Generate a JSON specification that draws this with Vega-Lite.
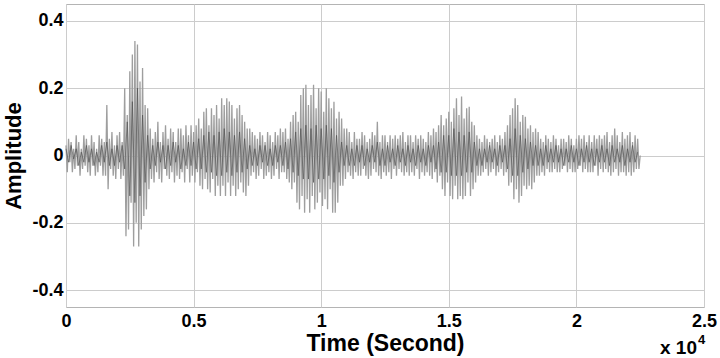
{
"$schema": "https://vega.github.io/schema/vega-lite/v6.json",
"width": 638, "height": 303,
"autosize": "none",
"padding": {"left": 66, "top": 4, "right": 16, "bottom": 51},
"background": "white",
"config": {"view": {"stroke": "#b4b4b4", "strokeWidth": 1}, "font": "Liberation Sans"},
"datasets": {
"main": [
{"t":0,"a":0.03},{"t":50,"a":-0.05},{"t":100,"a":0.05},{"t":150,"a":-0.02},{"t":200,"a":0.04},{"t":250,"a":-0.05},{"t":300,"a":0.02},{"t":350,"a":-0.04},{"t":400,"a":0.06},{"t":450,"a":-0.03},
{"t":500,"a":0.04},{"t":550,"a":-0.06},{"t":600,"a":0.02},{"t":650,"a":-0.04},{"t":700,"a":0.06},{"t":750,"a":-0.03},{"t":800,"a":0.05},{"t":850,"a":-0.05},{"t":900,"a":0.03},{"t":950,"a":-0.06},
{"t":1000,"a":0.06},{"t":1050,"a":-0.03},{"t":1100,"a":0.04},{"t":1150,"a":-0.06},{"t":1200,"a":0.02},{"t":1250,"a":-0.05},{"t":1300,"a":0.06},{"t":1350,"a":-0.03},{"t":1400,"a":0.05},{"t":1450,"a":-0.06},
{"t":1500,"a":0.04},{"t":1550,"a":-0.06},{"t":1600,"a":0.15},{"t":1650,"a":-0.10},{"t":1700,"a":0.05},{"t":1750,"a":-0.04},{"t":1800,"a":0.07},{"t":1850,"a":-0.06},{"t":1900,"a":0.03},{"t":1950,"a":-0.07},
{"t":2000,"a":0.06},{"t":2050,"a":-0.04},{"t":2100,"a":0.07},{"t":2150,"a":-0.07},{"t":2200,"a":0.04},{"t":2250,"a":-0.06},{"t":2300,"a":0.20},{"t":2350,"a":-0.24},{"t":2400,"a":0.12},{"t":2450,"a":-0.22},
{"t":2500,"a":0.25},{"t":2550,"a":-0.14},{"t":2600,"a":0.30},{"t":2650,"a":-0.27},{"t":2700,"a":0.34},{"t":2750,"a":-0.20},{"t":2800,"a":0.33},{"t":2850,"a":-0.27},{"t":2900,"a":0.22},{"t":2950,"a":-0.22},
{"t":3000,"a":0.26},{"t":3050,"a":-0.18},{"t":3100,"a":0.15},{"t":3150,"a":-0.16},{"t":3200,"a":0.14},{"t":3250,"a":-0.10},{"t":3300,"a":0.08},{"t":3350,"a":-0.07},{"t":3400,"a":0.05},{"t":3450,"a":-0.08},
{"t":3500,"a":0.07},{"t":3550,"a":-0.05},{"t":3600,"a":0.10},{"t":3650,"a":-0.07},{"t":3700,"a":0.04},{"t":3750,"a":-0.08},{"t":3800,"a":0.07},{"t":3850,"a":-0.04},{"t":3900,"a":0.09},{"t":3950,"a":-0.06},
{"t":4000,"a":0.05},{"t":4050,"a":-0.07},{"t":4100,"a":0.08},{"t":4150,"a":-0.05},{"t":4200,"a":0.07},{"t":4250,"a":-0.08},{"t":4300,"a":0.04},{"t":4350,"a":-0.06},{"t":4400,"a":0.08},{"t":4450,"a":-0.07},
{"t":4500,"a":0.08},{"t":4550,"a":-0.05},{"t":4600,"a":0.06},{"t":4650,"a":-0.08},{"t":4700,"a":0.09},{"t":4750,"a":-0.04},{"t":4800,"a":0.06},{"t":4850,"a":-0.08},{"t":4900,"a":0.09},{"t":4950,"a":-0.06},
{"t":5000,"a":0.07},{"t":5050,"a":-0.08},{"t":5100,"a":0.09},{"t":5150,"a":-0.05},{"t":5200,"a":0.11},{"t":5250,"a":-0.09},{"t":5300,"a":0.08},{"t":5350,"a":-0.10},{"t":5400,"a":0.13},{"t":5450,"a":-0.07},
{"t":5500,"a":0.14},{"t":5550,"a":-0.10},{"t":5600,"a":0.09},{"t":5650,"a":-0.11},{"t":5700,"a":0.14},{"t":5750,"a":-0.07},{"t":5800,"a":0.12},{"t":5850,"a":-0.12},{"t":5900,"a":0.15},{"t":5950,"a":-0.09},
{"t":6000,"a":0.11},{"t":6050,"a":-0.12},{"t":6100,"a":0.17},{"t":6150,"a":-0.09},{"t":6200,"a":0.15},{"t":6250,"a":-0.12},{"t":6300,"a":0.17},{"t":6350,"a":-0.08},{"t":6400,"a":0.16},{"t":6450,"a":-0.12},
{"t":6500,"a":0.15},{"t":6550,"a":-0.09},{"t":6600,"a":0.11},{"t":6650,"a":-0.12},{"t":6700,"a":0.14},{"t":6750,"a":-0.10},{"t":6800,"a":0.15},{"t":6850,"a":-0.08},{"t":6900,"a":0.12},{"t":6950,"a":-0.11},
{"t":7000,"a":0.10},{"t":7050,"a":-0.12},{"t":7100,"a":0.08},{"t":7150,"a":-0.09},{"t":7200,"a":0.08},{"t":7250,"a":-0.06},{"t":7300,"a":0.07},{"t":7350,"a":-0.05},{"t":7400,"a":0.06},{"t":7450,"a":-0.07},
{"t":7500,"a":0.05},{"t":7550,"a":-0.06},{"t":7600,"a":0.07},{"t":7650,"a":-0.04},{"t":7700,"a":0.06},{"t":7750,"a":-0.07},{"t":7800,"a":0.04},{"t":7850,"a":-0.06},{"t":7900,"a":0.07},{"t":7950,"a":-0.05},
{"t":8000,"a":0.06},{"t":8050,"a":-0.07},{"t":8100,"a":0.04},{"t":8150,"a":-0.06},{"t":8200,"a":0.07},{"t":8250,"a":-0.04},{"t":8300,"a":0.06},{"t":8350,"a":-0.07},{"t":8400,"a":0.08},{"t":8450,"a":-0.05},
{"t":8500,"a":0.07},{"t":8550,"a":-0.05},{"t":8600,"a":0.08},{"t":8650,"a":-0.07},{"t":8700,"a":0.05},{"t":8750,"a":-0.08},{"t":8800,"a":0.10},{"t":8850,"a":-0.10},{"t":8900,"a":0.12},{"t":8950,"a":-0.08},
{"t":9000,"a":0.13},{"t":9050,"a":-0.14},{"t":9100,"a":0.10},{"t":9150,"a":-0.16},{"t":9200,"a":0.18},{"t":9250,"a":-0.12},{"t":9300,"a":0.20},{"t":9350,"a":-0.17},{"t":9400,"a":0.21},{"t":9450,"a":-0.13},
{"t":9500,"a":0.15},{"t":9550,"a":-0.17},{"t":9600,"a":0.18},{"t":9650,"a":-0.12},{"t":9700,"a":0.21},{"t":9750,"a":-0.16},{"t":9800,"a":0.14},{"t":9850,"a":-0.14},{"t":9900,"a":0.20},{"t":9950,"a":-0.11},
{"t":10000,"a":0.19},{"t":10050,"a":-0.15},{"t":10100,"a":0.13},{"t":10150,"a":-0.13},{"t":10200,"a":0.20},{"t":10250,"a":-0.16},{"t":10300,"a":0.17},{"t":10350,"a":-0.10},{"t":10400,"a":0.14},{"t":10450,"a":-0.17},
{"t":10500,"a":0.16},{"t":10550,"a":-0.17},{"t":10600,"a":0.11},{"t":10650,"a":-0.14},{"t":10700,"a":0.13},{"t":10750,"a":-0.09},{"t":10800,"a":0.11},{"t":10850,"a":-0.09},{"t":10900,"a":0.08},{"t":10950,"a":-0.07},
{"t":11000,"a":0.08},{"t":11050,"a":-0.05},{"t":11100,"a":0.07},{"t":11150,"a":-0.06},{"t":11200,"a":0.04},{"t":11250,"a":-0.07},{"t":11300,"a":0.07},{"t":11350,"a":-0.05},{"t":11400,"a":0.05},{"t":11450,"a":-0.06},
{"t":11500,"a":0.05},{"t":11550,"a":-0.06},{"t":11600,"a":0.07},{"t":11650,"a":-0.04},{"t":11700,"a":0.06},{"t":11750,"a":-0.06},{"t":11800,"a":0.04},{"t":11850,"a":-0.07},{"t":11900,"a":0.05},{"t":11950,"a":-0.06},
{"t":12000,"a":0.07},{"t":12050,"a":-0.04},{"t":12100,"a":0.06},{"t":12150,"a":-0.05},{"t":12200,"a":0.10},{"t":12250,"a":-0.06},{"t":12300,"a":0.04},{"t":12350,"a":-0.07},{"t":12400,"a":0.06},{"t":12450,"a":-0.05},
{"t":12500,"a":0.06},{"t":12550,"a":-0.06},{"t":12600,"a":0.04},{"t":12650,"a":-0.05},{"t":12700,"a":0.06},{"t":12750,"a":-0.07},{"t":12800,"a":0.05},{"t":12850,"a":-0.04},{"t":12900,"a":0.06},{"t":12950,"a":-0.06},
{"t":13000,"a":0.05},{"t":13050,"a":-0.04},{"t":13100,"a":0.06},{"t":13150,"a":-0.05},{"t":13200,"a":0.07},{"t":13250,"a":-0.06},{"t":13300,"a":0.04},{"t":13350,"a":-0.05},{"t":13400,"a":0.06},{"t":13450,"a":-0.06},
{"t":13500,"a":0.06},{"t":13550,"a":-0.05},{"t":13600,"a":0.04},{"t":13650,"a":-0.06},{"t":13700,"a":0.06},{"t":13750,"a":-0.04},{"t":13800,"a":0.05},{"t":13850,"a":-0.07},{"t":13900,"a":0.06},{"t":13950,"a":-0.05},
{"t":14000,"a":0.05},{"t":14050,"a":-0.06},{"t":14100,"a":0.04},{"t":14150,"a":-0.05},{"t":14200,"a":0.07},{"t":14250,"a":-0.06},{"t":14300,"a":0.06},{"t":14350,"a":-0.07},{"t":14400,"a":0.08},{"t":14450,"a":-0.05},
{"t":14500,"a":0.07},{"t":14550,"a":-0.08},{"t":14600,"a":0.09},{"t":14650,"a":-0.06},{"t":14700,"a":0.12},{"t":14750,"a":-0.10},{"t":14800,"a":0.09},{"t":14850,"a":-0.12},{"t":14900,"a":0.11},{"t":14950,"a":-0.08},
{"t":15000,"a":0.13},{"t":15050,"a":-0.12},{"t":15100,"a":0.10},{"t":15150,"a":-0.13},{"t":15200,"a":0.14},{"t":15250,"a":-0.09},{"t":15300,"a":0.17},{"t":15350,"a":-0.13},{"t":15400,"a":0.12},{"t":15450,"a":-0.12},
{"t":15500,"a":0.175},{"t":15550,"a":-0.13},{"t":15600,"a":0.11},{"t":15650,"a":-0.12},{"t":15700,"a":0.14},{"t":15750,"a":-0.08},{"t":15800,"a":0.145},{"t":15850,"a":-0.12},{"t":15900,"a":0.10},{"t":15950,"a":-0.10},
{"t":16000,"a":0.09},{"t":16050,"a":-0.08},{"t":16100,"a":0.06},{"t":16150,"a":-0.06},{"t":16200,"a":0.05},{"t":16250,"a":-0.06},{"t":16300,"a":0.04},{"t":16350,"a":-0.05},{"t":16400,"a":0.06},{"t":16450,"a":-0.04},
{"t":16500,"a":0.05},{"t":16550,"a":-0.06},{"t":16600,"a":0.04},{"t":16650,"a":-0.05},{"t":16700,"a":0.05},{"t":16750,"a":-0.04},{"t":16800,"a":0.06},{"t":16850,"a":-0.06},{"t":16900,"a":0.04},{"t":16950,"a":-0.05},
{"t":17000,"a":0.06},{"t":17050,"a":-0.04},{"t":17100,"a":0.05},{"t":17150,"a":-0.06},{"t":17200,"a":0.07},{"t":17250,"a":-0.05},{"t":17300,"a":0.09},{"t":17350,"a":-0.09},{"t":17400,"a":0.12},{"t":17450,"a":-0.08},
{"t":17500,"a":0.14},{"t":17550,"a":-0.13},{"t":17600,"a":0.17},{"t":17650,"a":-0.10},{"t":17700,"a":0.15},{"t":17750,"a":-0.14},{"t":17800,"a":0.10},{"t":17850,"a":-0.12},{"t":17900,"a":0.12},{"t":17950,"a":-0.09},
{"t":18000,"a":0.115},{"t":18050,"a":-0.10},{"t":18100,"a":0.08},{"t":18150,"a":-0.09},{"t":18200,"a":0.09},{"t":18250,"a":-0.10},{"t":18300,"a":0.07},{"t":18350,"a":-0.08},{"t":18400,"a":0.08},{"t":18450,"a":-0.06},
{"t":18500,"a":0.07},{"t":18550,"a":-0.06},{"t":18600,"a":0.05},{"t":18650,"a":-0.05},{"t":18700,"a":0.04},{"t":18750,"a":-0.06},{"t":18800,"a":0.06},{"t":18850,"a":-0.04},{"t":18900,"a":0.05},{"t":18950,"a":-0.05},
{"t":19000,"a":0.04},{"t":19050,"a":-0.05},{"t":19100,"a":0.06},{"t":19150,"a":-0.04},{"t":19200,"a":0.05},{"t":19250,"a":-0.05},{"t":19300,"a":0.03},{"t":19350,"a":-0.05},{"t":19400,"a":0.05},{"t":19450,"a":-0.04},
{"t":19500,"a":0.05},{"t":19550,"a":-0.03},{"t":19600,"a":0.04},{"t":19650,"a":-0.05},{"t":19700,"a":0.06},{"t":19750,"a":-0.04},{"t":19800,"a":0.05},{"t":19850,"a":-0.05},{"t":19900,"a":0.03},{"t":19950,"a":-0.05},
{"t":20000,"a":0.05},{"t":20050,"a":-0.04},{"t":20100,"a":0.06},{"t":20150,"a":-0.03},{"t":20200,"a":0.05},{"t":20250,"a":-0.05},{"t":20300,"a":0.06},{"t":20350,"a":-0.04},{"t":20400,"a":0.04},{"t":20450,"a":-0.05},
{"t":20500,"a":0.06},{"t":20550,"a":-0.05},{"t":20600,"a":0.04},{"t":20650,"a":-0.05},{"t":20700,"a":0.06},{"t":20750,"a":-0.03},{"t":20800,"a":0.05},{"t":20850,"a":-0.06},{"t":20900,"a":0.06},{"t":20950,"a":-0.04},
{"t":21000,"a":0.05},{"t":21050,"a":-0.05},{"t":21100,"a":0.06},{"t":21150,"a":-0.04},{"t":21200,"a":0.07},{"t":21250,"a":-0.05},{"t":21300,"a":0.04},{"t":21350,"a":-0.06},{"t":21400,"a":0.06},{"t":21450,"a":-0.05},
{"t":21500,"a":0.08},{"t":21550,"a":-0.04},{"t":21600,"a":0.06},{"t":21650,"a":-0.06},{"t":21700,"a":0.04},{"t":21750,"a":-0.05},{"t":21800,"a":0.07},{"t":21850,"a":-0.05},{"t":21900,"a":0.05},{"t":21950,"a":-0.06},
{"t":22000,"a":0.06},{"t":22050,"a":-0.05},{"t":22100,"a":0.07},{"t":22150,"a":-0.06},{"t":22200,"a":0.04},{"t":22250,"a":-0.05},{"t":22300,"a":0.06},{"t":22350,"a":-0.04},{"t":22400,"a":0.05},{"t":22450,"a":-0.04},
{"t":22500,"a":0.0}
],
"core": [
{"t":0,"a":0.02},{"t":100,"a":-0.02},{"t":200,"a":0.03},{"t":300,"a":-0.01},{"t":400,"a":0.02},{"t":500,"a":-0.03},{"t":600,"a":0.01},{"t":700,"a":-0.02},{"t":800,"a":0.03},{"t":900,"a":-0.02},
{"t":1000,"a":0.02},{"t":1100,"a":-0.03},{"t":1200,"a":0.01},{"t":1300,"a":-0.02},{"t":1400,"a":0.03},{"t":1500,"a":-0.02},{"t":1600,"a":0.04},{"t":1700,"a":-0.03},{"t":1800,"a":0.02},{"t":1900,"a":-0.03},
{"t":2000,"a":0.03},{"t":2100,"a":-0.02},{"t":2200,"a":0.03},{"t":2300,"a":-0.04},{"t":2400,"a":0.10},{"t":2500,"a":-0.12},{"t":2600,"a":0.16},{"t":2700,"a":-0.14},{"t":2800,"a":0.20},{"t":2900,"a":-0.12},
{"t":3000,"a":0.12},{"t":3100,"a":-0.08},{"t":3200,"a":0.06},{"t":3300,"a":-0.04},{"t":3400,"a":0.03},{"t":3500,"a":-0.03},{"t":3600,"a":0.04},{"t":3700,"a":-0.02},{"t":3800,"a":0.03},{"t":3900,"a":-0.04},
{"t":4000,"a":0.03},{"t":4100,"a":-0.03},{"t":4200,"a":0.04},{"t":4300,"a":-0.02},{"t":4400,"a":0.03},{"t":4500,"a":-0.04},{"t":4600,"a":0.02},{"t":4700,"a":-0.03},{"t":4800,"a":0.04},{"t":4900,"a":-0.03},
{"t":5000,"a":0.04},{"t":5100,"a":-0.04},{"t":5200,"a":0.05},{"t":5300,"a":-0.04},{"t":5400,"a":0.06},{"t":5500,"a":-0.05},{"t":5600,"a":0.07},{"t":5700,"a":-0.05},{"t":5800,"a":0.06},{"t":5900,"a":-0.06},
{"t":6000,"a":0.07},{"t":6100,"a":-0.06},{"t":6200,"a":0.08},{"t":6300,"a":-0.05},{"t":6400,"a":0.07},{"t":6500,"a":-0.06},{"t":6600,"a":0.06},{"t":6700,"a":-0.05},{"t":6800,"a":0.07},{"t":6900,"a":-0.05},
{"t":7000,"a":0.05},{"t":7100,"a":-0.04},{"t":7200,"a":0.03},{"t":7300,"a":-0.03},{"t":7400,"a":0.02},{"t":7500,"a":-0.03},{"t":7600,"a":0.03},{"t":7700,"a":-0.02},{"t":7800,"a":0.03},{"t":7900,"a":-0.03},
{"t":8000,"a":0.02},{"t":8100,"a":-0.03},{"t":8200,"a":0.03},{"t":8300,"a":-0.02},{"t":8400,"a":0.03},{"t":8500,"a":-0.03},{"t":8600,"a":0.04},{"t":8700,"a":-0.04},{"t":8800,"a":0.05},{"t":8900,"a":-0.05},
{"t":9000,"a":0.07},{"t":9100,"a":-0.06},{"t":9200,"a":0.08},{"t":9300,"a":-0.07},{"t":9400,"a":0.09},{"t":9500,"a":-0.07},{"t":9600,"a":0.08},{"t":9700,"a":-0.08},{"t":9800,"a":0.09},{"t":9900,"a":-0.07},
{"t":10000,"a":0.08},{"t":10100,"a":-0.07},{"t":10200,"a":0.09},{"t":10300,"a":-0.06},{"t":10400,"a":0.08},{"t":10500,"a":-0.08},{"t":10600,"a":0.06},{"t":10700,"a":-0.05},{"t":10800,"a":0.04},{"t":10900,"a":-0.03},
{"t":11000,"a":0.03},{"t":11100,"a":-0.03},{"t":11200,"a":0.02},{"t":11300,"a":-0.03},{"t":11400,"a":0.03},{"t":11500,"a":-0.02},{"t":11600,"a":0.03},{"t":11700,"a":-0.03},{"t":11800,"a":0.02},{"t":11900,"a":-0.02},
{"t":12000,"a":0.03},{"t":12100,"a":-0.02},{"t":12200,"a":0.04},{"t":12300,"a":-0.03},{"t":12400,"a":0.02},{"t":12500,"a":-0.03},{"t":12600,"a":0.03},{"t":12700,"a":-0.02},{"t":12800,"a":0.02},{"t":12900,"a":-0.03},
{"t":13000,"a":0.03},{"t":13100,"a":-0.02},{"t":13200,"a":0.02},{"t":13300,"a":-0.03},{"t":13400,"a":0.03},{"t":13500,"a":-0.02},{"t":13600,"a":0.02},{"t":13700,"a":-0.03},{"t":13800,"a":0.03},{"t":13900,"a":-0.02},
{"t":14000,"a":0.02},{"t":14100,"a":-0.03},{"t":14200,"a":0.03},{"t":14300,"a":-0.02},{"t":14400,"a":0.03},{"t":14500,"a":-0.04},{"t":14600,"a":0.04},{"t":14700,"a":-0.05},{"t":14800,"a":0.06},{"t":14900,"a":-0.05},
{"t":15000,"a":0.06},{"t":15100,"a":-0.06},{"t":15200,"a":0.08},{"t":15300,"a":-0.06},{"t":15400,"a":0.07},{"t":15500,"a":-0.06},{"t":15600,"a":0.06},{"t":15700,"a":-0.05},{"t":15800,"a":0.07},{"t":15900,"a":-0.05},
{"t":16000,"a":0.04},{"t":16100,"a":-0.03},{"t":16200,"a":0.02},{"t":16300,"a":-0.03},{"t":16400,"a":0.02},{"t":16500,"a":-0.02},{"t":16600,"a":0.03},{"t":16700,"a":-0.02},{"t":16800,"a":0.02},{"t":16900,"a":-0.03},
{"t":17000,"a":0.03},{"t":17100,"a":-0.02},{"t":17200,"a":0.03},{"t":17300,"a":-0.04},{"t":17400,"a":0.05},{"t":17500,"a":-0.06},{"t":17600,"a":0.08},{"t":17700,"a":-0.06},{"t":17800,"a":0.06},{"t":17900,"a":-0.05},
{"t":18000,"a":0.05},{"t":18100,"a":-0.04},{"t":18200,"a":0.04},{"t":18300,"a":-0.03},{"t":18400,"a":0.03},{"t":18500,"a":-0.03},{"t":18600,"a":0.02},{"t":18700,"a":-0.03},{"t":18800,"a":0.03},{"t":18900,"a":-0.02},
{"t":19000,"a":0.02},{"t":19100,"a":-0.02},{"t":19200,"a":0.03},{"t":19300,"a":-0.02},{"t":19400,"a":0.02},{"t":19500,"a":-0.03},{"t":19600,"a":0.02},{"t":19700,"a":-0.02},{"t":19800,"a":0.03},{"t":19900,"a":-0.02},
{"t":20000,"a":0.02},{"t":20100,"a":-0.03},{"t":20200,"a":0.02},{"t":20300,"a":-0.02},{"t":20400,"a":0.03},{"t":20500,"a":-0.02},{"t":20600,"a":0.02},{"t":20700,"a":-0.03},{"t":20800,"a":0.02},{"t":20900,"a":-0.02},
{"t":21000,"a":0.03},{"t":21100,"a":-0.02},{"t":21200,"a":0.02},{"t":21300,"a":-0.03},{"t":21400,"a":0.03},{"t":21500,"a":-0.02},{"t":21600,"a":0.02},{"t":21700,"a":-0.02},{"t":21800,"a":0.03},{"t":21900,"a":-0.03},
{"t":22000,"a":0.02},{"t":22100,"a":-0.02},{"t":22200,"a":0.03},{"t":22300,"a":-0.02},{"t":22400,"a":0.01}
],
"one": [{"k": 1}]
},
"layer": [
{"data": {"name": "main"},
 "mark": {"type": "line", "color": "#9e9e9e", "strokeWidth": 1.3},
 "encoding": {
  "x": {"field": "t", "type": "quantitative", "scale": {"domain": [0, 25000], "nice": false},
   "axis": {"values": [0,5000,10000,15000,20000,25000], "labelExpr": "'' + datum.value/10000", "title": "Time (Second)",
    "titleFontSize": 23, "titleFontWeight": "bold", "titleColor": "black", "labelFontSize": 18, "labelFontWeight": "bold", "labelColor": "black",
    "ticks": false, "domain": false, "grid": true, "gridColor": "#cccccc", "labelPadding": 5, "titlePadding": 2, "labelFlush": false, "labelOverlap": false}},
  "y": {"field": "a", "type": "quantitative", "scale": {"domain": [-0.45, 0.45], "nice": false},
   "axis": {"values": [-0.4,-0.2,0,0.2,0.4], "labelExpr": "'' + datum.value", "title": "Amplitude",
    "titleFontSize": 22, "titleFontWeight": "bold", "titleColor": "black", "labelFontSize": 18, "labelFontWeight": "bold", "labelColor": "black",
    "ticks": false, "domain": false, "grid": true, "gridColor": "#cccccc", "labelPadding": 3, "titlePadding": 6, "labelOverlap": false}}
 }},
{"data": {"name": "core"},
 "mark": {"type": "line", "color": "#4a4a4a", "strokeWidth": 0.7, "opacity": 0.85},
 "encoding": {"x": {"field": "t", "type": "quantitative"}, "y": {"field": "a", "type": "quantitative"}}},
{"data": {"name": "one"},
 "mark": {"type": "text", "text": "x 10", "align": "right", "baseline": "alphabetic", "fontSize": 19, "fontWeight": "bold", "color": "black", "dx": -7, "dy": 47},
 "encoding": {"x": {"datum": 25000, "type": "quantitative"}, "y": {"datum": -0.45, "type": "quantitative"}}},
{"data": {"name": "one"},
 "mark": {"type": "text", "text": "4", "align": "left", "baseline": "alphabetic", "fontSize": 13, "fontWeight": "bold", "color": "black", "dx": -6, "dy": 37},
 "encoding": {"x": {"datum": 25000, "type": "quantitative"}, "y": {"datum": -0.45, "type": "quantitative"}}}
]
}
